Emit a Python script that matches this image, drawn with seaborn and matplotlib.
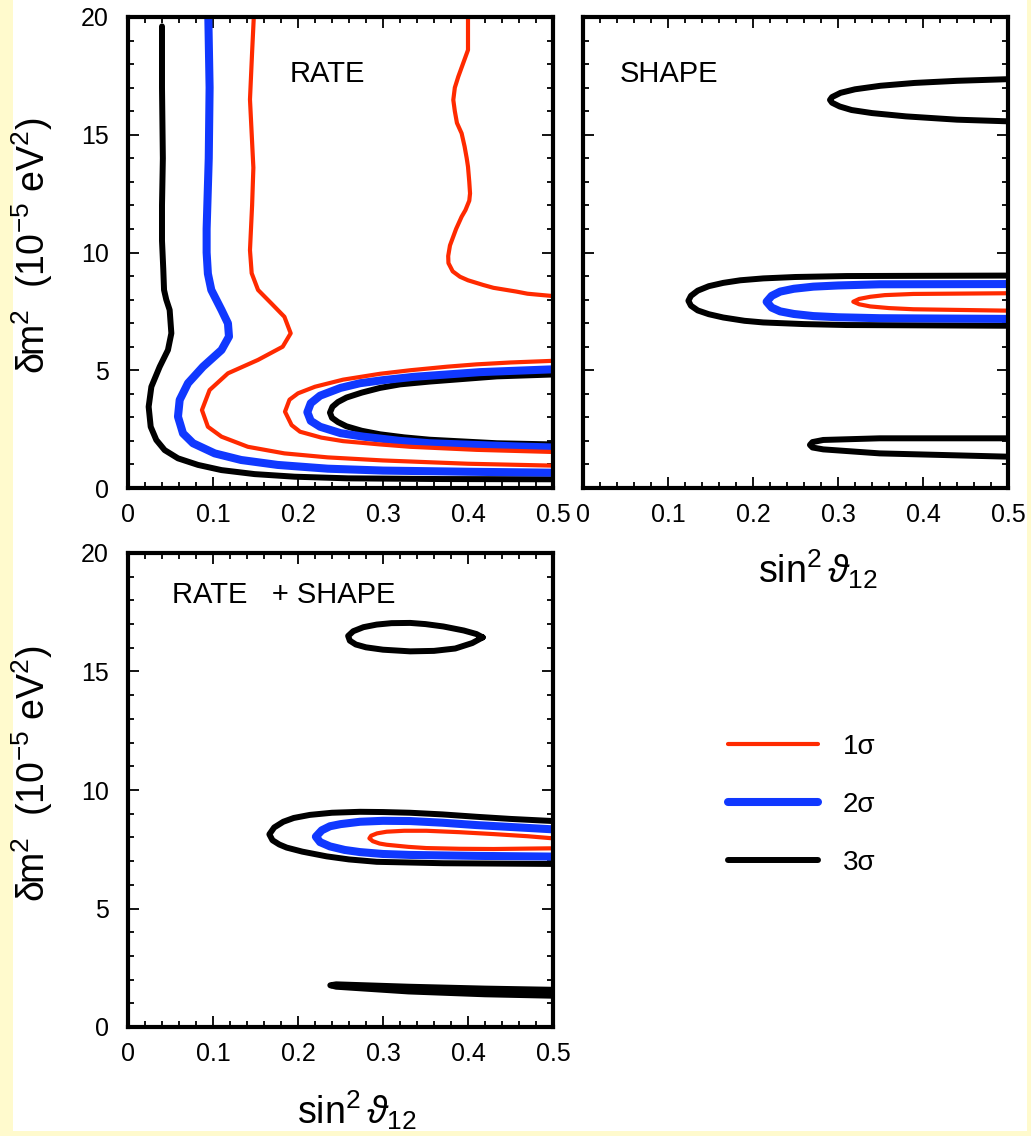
import matplotlib
matplotlib.use("Agg")
import matplotlib.pyplot as plt
import seaborn as sns
from matplotlib.lines import Line2D
from matplotlib.patches import Rectangle
from matplotlib.ticker import MultipleLocator

# ---------------- data ----------------
LEVELS = ["1σ", "2σ", "3σ"]
X_TICKS = [0, 0.1, 0.2, 0.3, 0.4, 0.5]
X_TICK_LABELS = ["0", "0.1", "0.2", "0.3", "0.4", "0.5"]
Y_TICKS = [0, 5, 10, 15, 20]
Y_TICK_LABELS = ["0", "5", "10", "15", "20"]
PANEL_TITLES = ["RATE", "SHAPE", "RATE   + SHAPE"]

# --- panel 1: RATE ---
rate_3s_outer_x = [0.040, 0.040, 0.041, 0.040, 0.040, 0.0415, 0.0424, 0.045, 0.049, 0.051, 0.047, 0.0373,
                   0.0275, 0.0243, 0.0267, 0.0333, 0.0431, 0.0588, 0.0824, 0.11, 0.149, 0.196, 0.259,
                   0.37, 0.5]
rate_3s_outer_y = [19.6, 17.0, 14.0, 12.0, 10.5, 9.3, 8.41, 8.0, 7.56, 6.57, 5.86, 5.15,
                   4.30, 3.45, 2.60, 2.04, 1.61, 1.26, 0.98, 0.76, 0.59, 0.48, 0.41,
                   0.38, 0.37]
rate_3s_inner_x = [0.5, 0.434, 0.355, 0.32, 0.2965, 0.275, 0.257, 0.247, 0.2405, 0.2376, 0.24, 0.247,
                   0.257, 0.275, 0.2965, 0.325, 0.355, 0.434, 0.5]
rate_3s_inner_y = [4.82, 4.74, 4.52, 4.40, 4.25, 4.05, 3.84, 3.65, 3.45, 3.20, 2.98, 2.80,
                   2.62, 2.43, 2.28, 2.15, 2.05, 1.90, 1.85]

rate_2s_outer_x = [0.0945, 0.096, 0.095, 0.0925, 0.0925, 0.094, 0.098, 0.11, 0.1176, 0.1188, 0.11, 0.0882,
                   0.0706, 0.0608, 0.0588, 0.0647, 0.0765, 0.102, 0.133, 0.176, 0.235, 0.3, 0.4, 0.5]
rate_2s_outer_y = [20.0, 17.0, 14.0, 11.0, 10.0, 9.1, 8.41, 7.56, 6.99, 6.43, 5.86, 5.15,
                   4.45, 3.74, 3.03, 2.32, 1.90, 1.47, 1.19, 0.98, 0.82, 0.74, 0.69, 0.65]
rate_2s_inner_x = [0.5, 0.414, 0.336, 0.3, 0.273, 0.25, 0.226, 0.215, 0.211, 0.215, 0.226, 0.25, 0.277,
                   0.32, 0.355, 0.453, 0.5]
rate_2s_inner_y = [5.04, 4.92, 4.72, 4.58, 4.45, 4.25, 3.92, 3.6, 3.22, 2.85, 2.60, 2.33, 2.18,
                   2.0, 1.90, 1.77, 1.72]

rate_1s_left_x = [0.148, 0.146, 0.1435, 0.1475, 0.146, 0.1435, 0.1455, 0.153, 0.1686, 0.184, 0.1914, 0.182,
                  0.153, 0.1176, 0.096, 0.087, 0.094, 0.11, 0.141, 0.184, 0.235, 0.3, 0.4, 0.5]
rate_1s_left_y = [20.0, 18.5, 16.5, 13.6, 12.0, 10.1, 9.12, 8.41, 7.84, 7.27, 6.57, 6.0,
                  5.44, 4.87, 4.16, 3.31, 2.60, 2.18, 1.75, 1.47, 1.30, 1.17, 1.03, 0.95]
rate_1s_right_x = [0.400, 0.400, 0.3886, 0.3845, 0.3827, 0.3845, 0.387, 0.3925, 0.396, 0.3985, 0.400,
                   0.4015, 0.4024, 0.4015, 0.397, 0.3925, 0.386, 0.3788, 0.3767, 0.377, 0.382, 0.3906,
                   0.4, 0.418, 0.43, 0.457, 0.47, 0.5]
rate_1s_right_y = [20.0, 18.6, 17.47, 17.0, 16.48, 16.0, 15.5, 15.06, 14.5, 14.0, 13.64,
                   13.0, 12.51, 12.2, 11.8, 11.52, 11.0, 10.3, 9.85, 9.55, 9.2, 8.97,
                   8.82, 8.62, 8.5, 8.34, 8.25, 8.15]
rate_1s_inner_x = [0.5, 0.45, 0.41, 0.375, 0.332, 0.2965, 0.253, 0.22, 0.2, 0.19, 0.1847, 0.1925, 0.2024,
                   0.2275, 0.253, 0.2965, 0.332, 0.41, 0.5]
rate_1s_inner_y = [5.40, 5.33, 5.25, 5.15, 5.0, 4.85, 4.6, 4.3, 4.02, 3.75, 3.24, 2.67, 2.39,
                   2.14, 1.99, 1.85, 1.75, 1.62, 1.53]

# --- panel 2: SHAPE ---
shape_3s_top_x = [0.5, 0.44, 0.39, 0.35, 0.32, 0.303, 0.293, 0.2906, 0.293, 0.302, 0.316, 0.34, 0.38,
                  0.44, 0.5]
shape_3s_top_y = [17.36, 17.29, 17.2, 17.08, 16.93, 16.78, 16.6, 16.48, 16.36, 16.2, 16.05, 15.92, 15.78,
                  15.64, 15.57]
shape_3s_mid_x = [0.5, 0.4, 0.31, 0.25, 0.212, 0.185, 0.165, 0.148, 0.135, 0.127, 0.124, 0.127, 0.135,
                  0.148, 0.165, 0.19, 0.212, 0.26, 0.31, 0.5]
shape_3s_mid_y = [9.02, 9.01, 9.0, 8.96, 8.90, 8.82, 8.71, 8.57, 8.38, 8.16, 7.95, 7.74, 7.54,
                  7.38, 7.24, 7.1, 7.03, 6.96, 6.92, 6.89]
shape_3s_bot_x = [0.5, 0.349, 0.2827, 0.27, 0.267, 0.27, 0.2827, 0.349, 0.5]
shape_3s_bot_y = [2.11, 2.11, 2.04, 1.95, 1.83, 1.72, 1.64, 1.47, 1.33]
shape_2s_x = [0.5, 0.349, 0.3, 0.271, 0.248, 0.232, 0.222, 0.216, 0.222, 0.232, 0.248, 0.271, 0.3,
              0.349, 0.5]
shape_2s_y = [8.66, 8.65, 8.6, 8.55, 8.46, 8.34, 8.16, 7.91, 7.66, 7.5, 7.39, 7.3, 7.25,
              7.21, 7.18]
shape_1s_x = [0.5, 0.3886, 0.355, 0.338, 0.325, 0.318, 0.325, 0.338, 0.36, 0.3886, 0.5]
shape_1s_y = [8.27, 8.24, 8.19, 8.12, 8.03, 7.91, 7.8, 7.71, 7.64, 7.59, 7.53]

# --- panel 3: RATE + SHAPE ---
comb_3s_top_x = [0.4173, 0.41, 0.395, 0.371, 0.35, 0.332, 0.31, 0.2926, 0.277, 0.265, 0.259, 0.261,
                 0.268, 0.28, 0.3, 0.332, 0.36, 0.385, 0.405, 0.4173]
comb_3s_top_y = [16.44, 16.58, 16.73, 16.9, 17.0, 17.05, 17.04, 16.98, 16.87, 16.7, 16.5, 16.3,
                 16.14, 16.02, 15.92, 15.85, 15.87, 15.97, 16.2, 16.44]
comb_3s_mid_x = [0.5, 0.45, 0.41, 0.37, 0.332, 0.3, 0.273, 0.24, 0.214, 0.195, 0.1827, 0.172, 0.1663,
                 0.17, 0.178, 0.1867, 0.205, 0.2337, 0.26, 0.2926, 0.371, 0.5]
comb_3s_mid_y = [8.69, 8.78, 8.87, 8.97, 9.04, 9.07, 9.08, 9.04, 8.95, 8.82, 8.66, 8.42, 8.13,
                 7.88, 7.7, 7.57, 7.4, 7.2, 7.07, 6.97, 6.91, 6.88]
comb_3s_bot_x = [0.5, 0.42, 0.33, 0.245, 0.238, 0.245, 0.33, 0.42, 0.5]
comb_3s_bot_y = [1.57, 1.62, 1.70, 1.80, 1.76, 1.70, 1.50, 1.38, 1.32]
comb_2s_x = [0.5, 0.45, 0.41, 0.37, 0.332, 0.3, 0.273, 0.25, 0.2376, 0.228, 0.221, 0.226, 0.2376,
             0.255, 0.273, 0.3, 0.332, 0.41, 0.5]
comb_2s_y = [8.34, 8.44, 8.52, 8.62, 8.69, 8.70, 8.66, 8.56, 8.47, 8.3, 8.03, 7.8, 7.62,
             7.47, 7.38, 7.3, 7.26, 7.22, 7.19]
comb_1s_x = [0.5, 0.47, 0.43, 0.39, 0.351, 0.325, 0.3043, 0.293, 0.286, 0.284, 0.288, 0.296, 0.3043,
             0.33, 0.351, 0.39, 0.43, 0.5]
comb_1s_y = [7.96, 8.05, 8.14, 8.22, 8.28, 8.28, 8.24, 8.17, 8.07, 7.96, 7.84, 7.74, 7.69,
             7.6, 7.55, 7.52, 7.51, 7.54]

PANELS = [
    [(rate_3s_outer_x, rate_3s_outer_y, "3σ"), (rate_3s_inner_x, rate_3s_inner_y, "3σ"),
     (rate_2s_outer_x, rate_2s_outer_y, "2σ"), (rate_2s_inner_x, rate_2s_inner_y, "2σ"),
     (rate_1s_left_x, rate_1s_left_y, "1σ"), (rate_1s_right_x, rate_1s_right_y, "1σ"),
     (rate_1s_inner_x, rate_1s_inner_y, "1σ")],
    [(shape_3s_top_x, shape_3s_top_y, "3σ"), (shape_3s_mid_x, shape_3s_mid_y, "3σ"),
     (shape_3s_bot_x, shape_3s_bot_y, "3σ"), (shape_2s_x, shape_2s_y, "2σ"),
     (shape_1s_x, shape_1s_y, "1σ")],
    [(comb_3s_top_x, comb_3s_top_y, "3σ"), (comb_3s_mid_x, comb_3s_mid_y, "3σ"),
     (comb_3s_bot_x, comb_3s_bot_y, "3σ"), (comb_2s_x, comb_2s_y, "2σ"),
     (comb_1s_x, comb_1s_y, "1σ")],
]

# ---------------- style ----------------
STYLE = {"1σ": ("#ff2a00", 3.0), "2σ": ("#1038ff", 5.8), "3σ": ("#000000", 4.3)}
BG = "#fffacd"
W, H = 1031, 1136

sns.set_style("ticks")
plt.rcParams["font.family"] = ["Liberation Sans", "DejaVu Sans"]
plt.rcParams["mathtext.fontset"] = "custom"
plt.rcParams["mathtext.rm"] = "Liberation Sans"
plt.rcParams["mathtext.it"] = "Liberation Sans:italic"
plt.rcParams["mathtext.bf"] = "Liberation Sans:bold"
for k in ["text.color", "axes.labelcolor", "xtick.color", "ytick.color", "axes.edgecolor"]:
    plt.rcParams[k] = "black"

fig = plt.figure(figsize=(W / 100, H / 100), dpi=100)
fig.patch.set_facecolor(BG)
fig.add_artist(Rectangle((13 / W, 5 / H), (1027 - 13) / W, 1, transform=fig.transFigure,
                         facecolor="white", edgecolor="none", zorder=-10))

def box(l, t, r, b):
    return [l / W, 1 - b / H, (r - l) / W, (b - t) / H]

axes = [fig.add_axes(box(128, 17, 553, 488)),
        fig.add_axes(box(583, 17, 1008, 488)),
        fig.add_axes(box(128, 553, 553, 1027))]

YLABEL = "δm$^2$  (10$^{-5}$ eV$^2$)"
XLABEL = r"sin$^2\,\vartheta_{12}$"
TITLE_POS = [(0.19, 17.24), (0.0435, 17.24), (0.0514, 17.88)]

for i, (ax, curves) in enumerate(zip(axes, PANELS)):
    ax.set_facecolor("white")
    for xs, ys, lev in curves:
        c, lw = STYLE[lev]
        sns.lineplot(x=xs, y=ys, sort=False, estimator=None, color=c, linewidth=lw,
                     ax=ax, legend=False, solid_capstyle="round", solid_joinstyle="round")
    ax.set_xlim(0, 0.5)
    ax.set_ylim(0, 20)
    ax.set_xticks(X_TICKS)
    ax.set_xticklabels(X_TICK_LABELS)
    ax.set_yticks(Y_TICKS)
    ax.set_yticklabels(Y_TICK_LABELS)
    ax.xaxis.set_minor_locator(MultipleLocator(0.02))
    ax.yaxis.set_minor_locator(MultipleLocator(1))
    ax.tick_params(which="both", direction="in", top=True, right=True, width=1.3, color="black")
    ax.tick_params(which="major", length=8)
    ax.tick_params(which="minor", length=4.5)
    ax.tick_params(axis="x", labelsize=18, pad=11)
    ax.tick_params(axis="y", labelsize=18, pad=14)
    for s in ax.spines.values():
        s.set_linewidth(3)
        s.set_color("black")
    ax.set_xlabel("")
    ax.set_ylabel("")
    ax.text(TITLE_POS[i][0], TITLE_POS[i][1], PANEL_TITLES[i], fontsize=21, ha="left",
            va="baseline")

axes[1].tick_params(axis="y", labelleft=False)

axes[0].set_ylabel(YLABEL, fontsize=27)
axes[0].yaxis.set_label_coords(-0.172, 0.514)
axes[2].set_ylabel(YLABEL, fontsize=27)
axes[2].yaxis.set_label_coords(-0.172, 0.534)
axes[1].set_xlabel(XLABEL, fontsize=27)
axes[1].xaxis.set_label_coords(0.553, -0.125)
axes[2].set_xlabel(XLABEL, fontsize=27)
axes[2].xaxis.set_label_coords(0.539, -0.128)

handles = [Line2D([], [], color=STYLE[l][0], linewidth=STYLE[l][1], solid_capstyle="round")
           for l in LEVELS]
fig.legend(handles, LEVELS, loc="center left", bbox_to_anchor=(728 / W, 1 - 805 / H),
           frameon=False, fontsize=20, handlelength=3.24, handletextpad=0.9,
           labelspacing=1.15, borderpad=0, borderaxespad=0)

fig.savefig("out.png", dpi=100, facecolor=fig.get_facecolor())
